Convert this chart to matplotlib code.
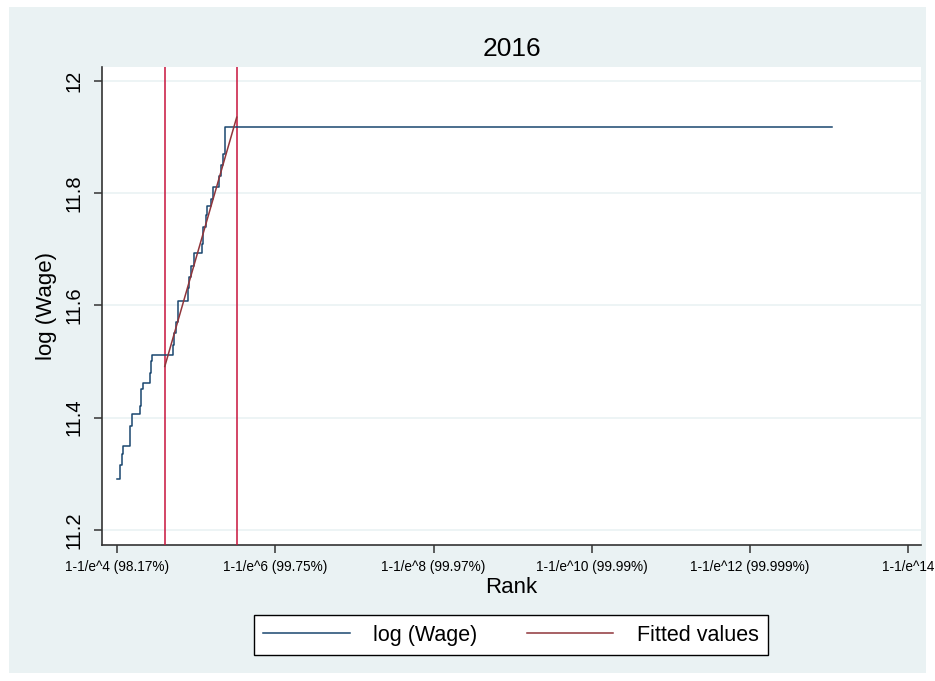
import numpy as np
import matplotlib
matplotlib.use("Agg")
import matplotlib.pyplot as plt
from matplotlib.patches import Rectangle
from matplotlib import font_manager

plt.rcParams['font.family'] = ['Liberation Sans', 'DejaVu Sans']

# rank em unidades de -ln(1 - p), log do salario (degraus)
rank = [3.99, 4.038, 4.057, 4.069, 4.157, 4.164, 4.182, 4.289, 4.302, 4.321,
        4.409, 4.421, 4.434, 4.704, 4.717, 4.742, 4.764, 4.899, 4.912, 4.931,
        4.969, 5.075, 5.088, 5.119, 5.138, 5.182, 5.211, 5.283, 5.308, 5.333,
        5.36, 13.035]
log_wage = [11.291, 11.315, 11.335, 11.350, 11.360, 11.385, 11.406, 11.420, 11.450, 11.461,
            11.480, 11.500, 11.512, 11.530, 11.550, 11.570, 11.608, 11.630, 11.650, 11.670,
            11.693, 11.710, 11.740, 11.760, 11.776, 11.790, 11.811, 11.830, 11.850, 11.870,
            11.918, 11.918]

# reta ajustada entre os cortes
fit_x = [4.6, 5.51]
fit_y = [11.491, 11.935]
cortes = [4.6, 5.51]

xticks = [4, 6, 8, 10, 12, 14]
xlabels = ['1-1/e^4 (98.17%)', '1-1/e^6 (99.75%)', '1-1/e^8 (99.97%)',
           '1-1/e^10 (99.99%)', '1-1/e^12 (99.999%)', '1-1/e^14']
yticks = [11.2, 11.4, 11.6, 11.8, 12.0]
ylabels = ['11.2', '11.4', '11.6', '11.8', '12']

nomes = {f.name for f in font_manager.fontManager.ttflist}
fonte_estreita = 'Liberation Sans Narrow' if 'Liberation Sans Narrow' in nomes else 'Liberation Sans'

W, H = 935, 681
fig = plt.figure(figsize=(W / 100, H / 100), dpi=100)
fig.patch.set_facecolor('white')
fundo = Rectangle((9 / W, 1 - 673 / H), (926 - 9) / W, (673 - 7) / H,
                  transform=fig.transFigure, facecolor='#eaf2f3',
                  edgecolor='none', zorder=-10)
fig.patches.append(fundo)

ax = fig.add_axes([102 / W, 1 - 545 / H, (921 - 102) / W, (545 - 66.7) / H])
ax.set_zorder(1)
ax.set_facecolor('white')

azul = '#1a476f'
vermelho = '#90353b'

for c in cortes:
    ax.axvline(c, color='#c8143c', lw=1.1, zorder=3)
ax.plot(rank, log_wage, drawstyle='steps-post', color=azul, lw=1.1,
        label='log (Wage)', zorder=4)
ax.plot(fit_x, fit_y, color=vermelho, lw=1.1, label='Fitted values', zorder=5)

ax.set_xlim(3.806, 14.166)
ax.set_ylim(11.173, 12.025)
ax.set_yticks(yticks)
ax.set_yticklabels(ylabels, rotation=90, va='center', fontsize=14.5)
ax.set_xticks(xticks)
tam = 11.5 if fonte_estreita != 'Liberation Sans' else 9.8
ax.set_xticklabels(xlabels, fontsize=tam, family=[fonte_estreita, 'DejaVu Sans'])
ax.grid(axis='y', color='#eaf2f3', lw=1.2, zorder=0)
ax.set_axisbelow(True)

for s in ['top', 'right']:
    ax.spines[s].set_visible(False)
for s in ['left', 'bottom']:
    ax.spines[s].set_color('#333333')
    ax.spines[s].set_linewidth(1.2)
ax.tick_params(axis='both', length=6, width=1.1, color='#333333', labelcolor='black')
ax.tick_params(axis='y', pad=7)
ax.tick_params(axis='x', pad=5)

ax.set_xlabel('Rank', fontsize=16, labelpad=2)
ax.set_ylabel('log (Wage)', fontsize=16, labelpad=6)
ax.set_title('2016', fontsize=19, pad=8)

leg = fig.legend(loc='center', bbox_to_anchor=(511 / W, 1 - 635.3 / H), ncol=2,
                 fontsize=15.5, frameon=True, fancybox=False, handlelength=4.0,
                 columnspacing=2.3, borderpad=0.45, handletextpad=1.1)
leg.get_frame().set_edgecolor('black')
leg.get_frame().set_linewidth(1.0)
leg.get_frame().set_alpha(1)
leg.get_frame().set_facecolor('white')

fig.savefig('out.png', dpi=100, facecolor=fig.get_facecolor())
